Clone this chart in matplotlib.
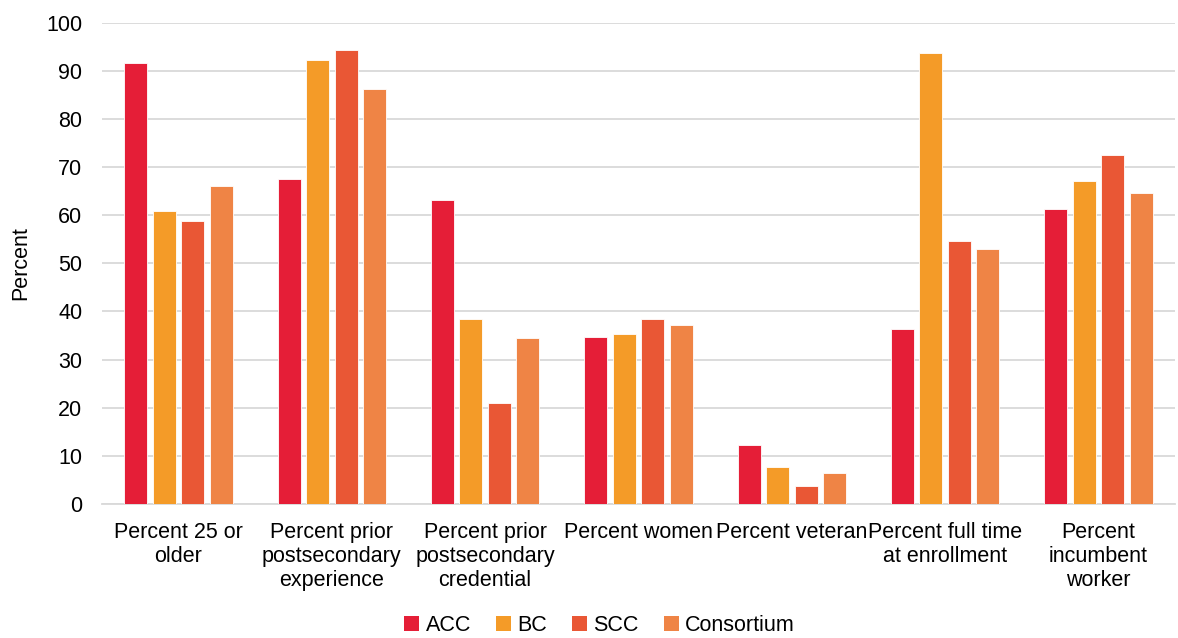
import numpy as np
import matplotlib.pyplot as plt
from matplotlib.patches import Patch

plt.rcParams['font.family'] = ['Liberation Sans', 'DejaVu Sans']

categories = ["Percent 25 or\nolder",
              "Percent prior\npostsecondary\nexperience",
              "Percent prior\npostsecondary\ncredential",
              "Percent women",
              "Percent veteran",
              "Percent full time\nat enrollment",
              "Percent\nincumbent\nworker"]
series = ["ACC", "BC", "SCC", "Consortium"]
acc = [91.6, 67.6, 63.1, 34.6, 12.3, 36.4, 61.3]
bc = [60.9, 92.3, 38.4, 35.3, 7.6, 93.7, 67.2]
scc = [58.7, 94.3, 20.9, 38.5, 3.8, 54.7, 72.5]
consortium = [66.0, 86.3, 34.4, 37.1, 6.5, 53.0, 64.7]
colors = ["#E51E37", "#F49B28", "#E95735", "#EF8445"]

fig = plt.figure(figsize=(11.78, 6.38), dpi=100)
ax = fig.add_axes([0.0865, 0.21, 0.911, 0.7545])

x = np.arange(len(categories))
step = 0.186
width = 0.15
for k, (vals, c) in enumerate(zip([acc, bc, scc, consortium], colors)):
    ax.bar(x + (k - 1.5) * step, vals, width, color=c,
           edgecolor="white", linewidth=0.6, zorder=3)

ax.set_xlim(-0.5, len(categories) - 0.5)
ax.set_ylim(0, 100)
ax.set_yticks(range(0, 101, 10))
ax.set_xticks(x)
ax.set_xticklabels(categories, fontsize=15.5, linespacing=1.2)
ax.tick_params(axis='both', length=0, labelsize=15.5)
ax.tick_params(axis='x', pad=13)
ax.tick_params(axis='y', pad=14)
ax.grid(axis='y', color='#D9D9D9', linewidth=1.3, zorder=0)
for s in ['top', 'right', 'left']:
    ax.spines[s].set_visible(False)
ax.spines['bottom'].set_color('#D9D9D9')
ax.spines['bottom'].set_linewidth(1.3)
ax.set_ylabel("Percent", fontsize=15.5)
ax.yaxis.set_label_coords(-0.066, 0.5)

handles = [Patch(facecolor=c, label=s) for c, s in zip(colors, series)]
fig.legend(handles=handles, loc='center', bbox_to_anchor=(0.509, 0.019),
           ncol=4, frameon=False, fontsize=15.5, handlelength=0.7,
           handleheight=0.7, handletextpad=0.3, columnspacing=1.15,
           borderpad=0.2)

fig.savefig("out.png", dpi=100)
